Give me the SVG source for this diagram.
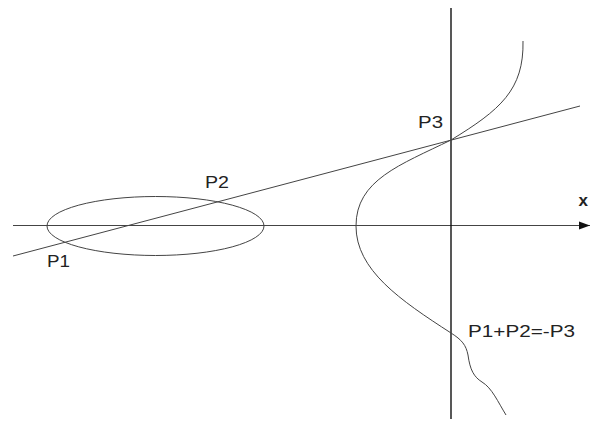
<svg xmlns="http://www.w3.org/2000/svg" width="590" height="421" viewBox="0 0 590 421">
<style>
.thin{fill:none;stroke:#444;stroke-width:1}
.lbl{font-family:"Liberation Sans",Arial,sans-serif;font-size:17px;fill:#222}
</style>
<defs>
<marker id="arr" markerWidth="12" markerHeight="10" refX="11" refY="5" orient="auto" markerUnits="userSpaceOnUse">
<path d="M0,1 L11,5 L0,9 Z" fill="#111"/>
</marker>
</defs>
<rect width="590" height="421" fill="#fff"/>
<g id="connectors">
<line id="x-axis" x1="13" y1="225.5" x2="590" y2="225.5" class="thin" marker-end="url(#arr)"/>
<line id="y-axis" x1="451" y1="8" x2="451" y2="419" fill="none" stroke="#111" stroke-width="1.4"/>
<line id="secant" x1="13" y1="256" x2="580" y2="106" class="thin"/>
</g>
<g id="ellipse">
<ellipse cx="155.5" cy="226" rx="108.5" ry="29.5" class="thin"/>
</g>
<g id="curve">
<path class="thin" d="M523,41 C524,90 500,110 451,140 C400,165 356,180 356,226 C356,270 400,300 451,333 C462,340 466,345 468,355 C470,370 474,377 482,382 C492,388 498,402 506,415"/>
</g>
<g id="labels">
<text class="lbl" x="47" y="267" textLength="23" lengthAdjust="spacingAndGlyphs">P1</text>
<text class="lbl" x="205" y="188" textLength="24" lengthAdjust="spacingAndGlyphs">P2</text>
<text class="lbl" x="418" y="128" textLength="25" lengthAdjust="spacingAndGlyphs">P3</text>
<text class="lbl" x="468" y="337" textLength="107" lengthAdjust="spacingAndGlyphs">P1+P2=-P3</text>
<text class="lbl" x="578.5" y="206" font-weight="bold" font-size="16">x</text>
</g>
</svg>
